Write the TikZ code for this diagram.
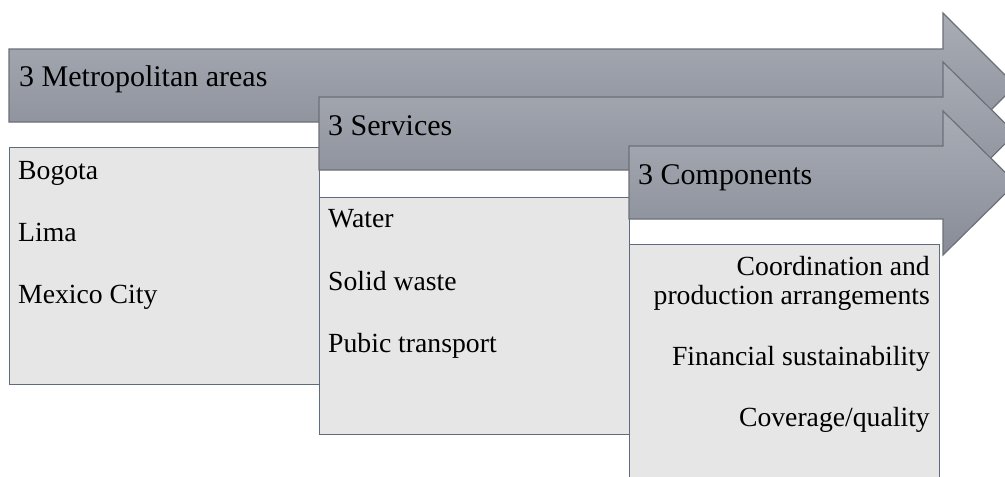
\documentclass[tikz,border=0pt]{standalone}
\usepackage{fontspec}
\setmainfont{Liberation Serif}
\definecolor{arrtop}{HTML}{A9ADB6}
\definecolor{arrbot}{HTML}{878C96}
\definecolor{arrline}{HTML}{6C7079}
\definecolor{boxfill}{HTML}{E6E6E6}
\definecolor{boxline}{HTML}{5F6C7E}
\tikzset{
  arrowshape/.style={draw=arrline, line width=1.2pt, top color=arrtop, bottom color=arrbot, line join=miter},
  listbox/.style={draw=boxline, line width=1.2pt, fill=boxfill, rectangle, anchor=north west, inner sep=0pt, minimum width=310pt, minimum height=237pt},
  arrtext/.style={anchor=base west, inner sep=0pt, font=\fontsize{30}{36}\selectfont},
  itemtext/.style={anchor=base west, inner sep=0pt, font=\fontsize{27.7}{30}\selectfont},
  itemtextr/.style={anchor=base east, inner sep=0pt, font=\fontsize{27.7}{30}\selectfont, align=right}
}
\begin{document}
\begin{tikzpicture}[x=1pt,y=-1pt]
\path[use as bounding box] (0,0) rectangle (1005,477);
\clip (0,0) rectangle (1005,477);
\fill[white] (0,0) rectangle (1005,477);

% arrow 1
\path[arrowshape] (9,49) -- (943,49) -- (943,13) -- (1015.5,85.5) -- (943,158) -- (943,122) -- (9,122) -- cycle;
\node[arrtext] (t1) at (19,86) {3 Metropolitan areas};
% box 1
\node[listbox] (b1) at (9,147) {};
\node[itemtext] (b1a) at (18,179) {Bogota};
\node[itemtext] (b1b) at (18,241) {Lima};
\node[itemtext] (b1c) at (18,303) {Mexico City};

% arrow 2
\path[arrowshape] (319,97) -- (943,97) -- (943,62) -- (1015.5,133.5) -- (943,205) -- (943,170) -- (319,170) -- cycle;
\node[arrtext] (t2) at (328,135) {3 Services};
% box 2
\node[listbox] (b2) at (319,197) {};
\node[itemtext] (b2a) at (328,227) {Water};
\node[itemtext] (b2b) at (328,290) {Solid waste};
\node[itemtext] (b2c) at (328,352) {Pubic transport};

% arrow 3
\path[arrowshape] (629,146) -- (943,146) -- (943,111) -- (1016,183) -- (943,255) -- (943,219) -- (629,219) -- cycle;
\node[arrtext] (t3) at (638,184) {3 Components};
% box 3
\node[listbox, minimum height=260pt] (b3) at (629,244) {};
\node[itemtextr] (b3a) at (930,275) {Coordination and};
\node[itemtextr] (b3b) at (930,304) {production arrangements};
\node[itemtextr] (b3c) at (930,365) {Financial sustainability};
\node[itemtextr] (b3d) at (930,426) {Coverage/quality};
\end{tikzpicture}
\end{document}
